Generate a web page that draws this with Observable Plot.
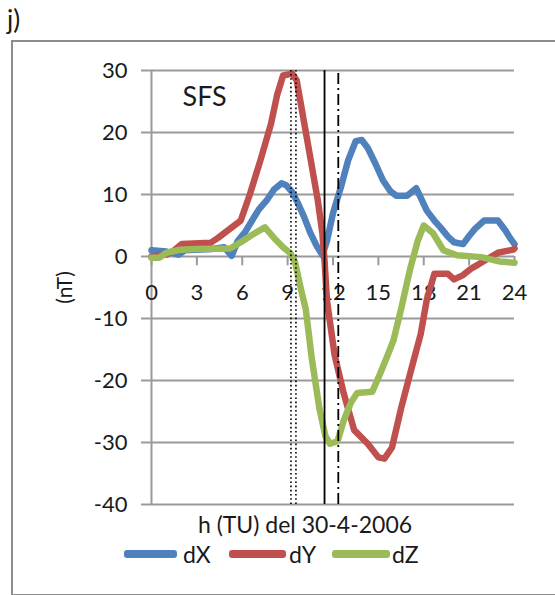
<!DOCTYPE html>
<html>
<head>
<meta charset="utf-8">
<script src="https://cdn.jsdelivr.net/npm/d3@7"></script>
<script src="https://cdn.jsdelivr.net/npm/@observablehq/plot@0.6"></script>
<style>
  html, body { margin: 0; padding: 0; background: #fff; }
  body { width: 555px; height: 595px; position: relative; overflow: hidden; font-family: Lato, "Open Sans", sans-serif; color: #1a1a1a; }
  #frame { position: absolute; left: 11px; top: 40px; width: 600px; height: 552px; border-left: 2px solid #8c8c8c; border-top: 2px solid #8c8c8c; border-bottom: 2px solid #8c8c8c; }
  #panel { position: absolute; left: 7px; top: 6px; font-size: 26px; line-height: 1; }
  #chart { position: absolute; left: 0; top: 0; }
  .leg { position: absolute; top: 542px; font-size: 23px; line-height: 24px; }
  .sw { position: absolute; height: 8px; border-radius: 3px; top: 550px; }
</style>
</head>
<body>
<div id="frame"></div>
<div id="panel">j)</div>
<div id="chart"></div>
<div id="legend"></div>
<script>
// ---- data (hours UT, nT) ----
const hoursX = [0, 1, 1.8, 2.2, 4, 4.8, 5.3, 5.7, 6.2, 6.7, 7.1, 7.6, 8.1, 8.6, 8.9, 9.3, 9.7, 10.1, 10.5, 10.9, 11.3, 11.6, 12.0, 12.5, 13.0, 13.5, 13.9, 14.3, 14.8, 15.3, 15.8, 16.2, 16.9, 17.5, 17.8, 18.2, 18.7, 19.1, 19.6, 20.0, 20.6, 21.0, 21.4, 22.0, 22.9, 23.4, 23.7, 24];
const dX =     [1.0, 0.8, 0.3, 1.0, 1.2, 1.5, 0.1, 2.5, 4.0, 6.0, 7.6, 9.0, 10.8, 11.8, 11.5, 10.4, 8.5, 6.3, 3.8, 1.8, 0.2, 2.5, 7.0, 11.0, 15.5, 18.6, 18.8, 17.5, 15.0, 12.3, 10.5, 9.8, 9.8, 11.0, 9.5, 7.4, 5.8, 4.7, 3.2, 2.3, 2.0, 3.3, 4.5, 5.8, 5.8, 4.2, 3.0, 2.0];

const hoursY = [0, 1.0, 1.5, 2.0, 3.9, 4.4, 5.2, 5.9, 6.5, 7.2, 7.9, 8.3, 8.7, 9.3, 9.6, 10.3, 11.0, 11.3, 11.45, 11.6, 12.1, 12.7, 13.4, 14.3, 15.0, 15.4, 15.9, 16.5, 17.1, 17.8, 18.2, 18.7, 19.6, 20.0, 20.6, 21.1, 21.6, 22.2, 22.9, 23.9, 24];
const dY =     [0, 0.3, 1.0, 2.0, 2.2, 3.0, 4.5, 5.8, 10.0, 15.5, 21.4, 26.0, 29.2, 29.5, 28.4, 18.7, 9.0, 3.7, -1.0, -7.1, -15.8, -22.0, -28.0, -30.2, -32.4, -32.6, -30.8, -24.5, -18.9, -12.5, -7.0, -2.8, -2.8, -3.7, -3.0, -2.0, -1.3, -0.4, 0.6, 1.1, 1.3];

const hoursZ = [0, 0.5, 1.0, 1.9, 3.0, 5.2, 5.9, 6.8, 7.5, 8.1, 8.7, 9.2, 9.5, 9.9, 10.2, 10.6, 11.1, 11.5, 11.8, 12.3, 12.7, 13.2, 13.6, 14.6, 15.1, 15.6, 16.0, 16.5, 17.1, 17.6, 18.0, 18.6, 19.3, 20.2, 21.8, 23.0, 24];
const dZ =     [-0.2, -0.2, 0.6, 1.1, 1.2, 1.3, 2.3, 3.7, 4.7, 3.0, 1.5, 0.5, -1.0, -5.5, -8.5, -16.5, -24.5, -29.0, -30.2, -29.8, -26.5, -23.5, -22.0, -21.8, -19.0, -16.0, -13.5, -8.5, -2.0, 2.5, 5.0, 3.8, 1.0, 0.2, -0.1, -0.8, -1.0];

const seriesNames = ["dX", "dY", "dZ"];
const seriesColors = ["#4F81BD", "#C0504D", "#9BBB59"];

const xTicks = [0, 3, 6, 9, 12, 15, 18, 21, 24];
const yTicks = [-40, -30, -20, -10, 0, 10, 20, 30];

const eventHours = [9.22, 9.55, 11.44, 12.35];
const eventStyles = ["dotted", "dotted", "solid", "dashdot"];

const stationLabel = "SFS";
const yLabel = "(nT)";
const xLabel = "h (TU) del 30-4-2006";

// ---- build tables ----
const rows = [];
hoursX.forEach((h, i) => rows.push({h, v: dX[i], s: "dX"}));
hoursY.forEach((h, i) => rows.push({h, v: dY[i], s: "dY"}));
hoursZ.forEach((h, i) => rows.push({h, v: dZ[i], s: "dZ"}));
const events = eventHours.map((h, i) => ({h, style: eventStyles[i]}));
const dashFor = {dotted: "1.6,2.6", solid: null, dashdot: "11,4,2,4"};
const widthFor = {dotted: 1.6, solid: 1.8, dashdot: 1.8};

const gridColor = "#9a9a9a";
const textColor = "#1a1a1a";

const lineMarks = seriesNames.map((name, i) =>
  Plot.line(rows.filter(d => d.s === name), {
    x: "h", y: "v", stroke: seriesColors[i], strokeWidth: 6.5,
    strokeLinejoin: "round", strokeLinecap: "round"
  })
);

const eventMarks = ["dotted", "solid", "dashdot"].map(st =>
  Plot.ruleX(events.filter(e => e.style === st), {
    x: "h", y1: yTicks[0], y2: yTicks[yTicks.length - 1],
    stroke: "#000", strokeWidth: widthFor[st], strokeDasharray: dashFor[st]
  })
);

const chart = Plot.plot({
  width: 555,
  height: 595,
  marginLeft: 151,
  marginRight: 41,
  marginTop: 70,
  marginBottom: 91,
  x: {domain: [0, 24], axis: null},
  y: {domain: [-40, 30], axis: null},
  style: {fontFamily: "Lato, 'Open Sans', sans-serif", fontSize: "22px", color: textColor, background: "transparent"},
  marks: [
    Plot.gridY(yTicks, {stroke: gridColor, strokeOpacity: 1, strokeWidth: 2}),
    Plot.axisY(yTicks, {tickSize: 10, tickPadding: 14, label: null, stroke: gridColor, strokeWidth: 2, fill: textColor, fontSize: 22, tickFormat: d => String(d)}),
    Plot.ruleX([0], {stroke: gridColor, strokeWidth: 2}),
    Plot.ruleX(xTicks, {x: d => d, y1: 0, y2: -1.5, stroke: gridColor, strokeWidth: 2}),
    Plot.text(xTicks, {x: d => d, y: 0, dy: 36, text: d => String(d), fill: textColor, fontSize: 22}),
    ...lineMarks,
    ...eventMarks,
    Plot.text([stationLabel], {frameAnchor: "top-left", dx: 31, dy: 27, text: d => d, textAnchor: "start", lineAnchor: "middle", fontSize: 27, fill: textColor}),
    Plot.text([yLabel], {frameAnchor: "left", dx: -86, text: d => d, rotate: -90, textAnchor: "middle", lineAnchor: "middle", fontSize: 21, fill: textColor}),
    Plot.text([xLabel], {frameAnchor: "bottom", dx: -28, dy: 21, text: d => d, textAnchor: "middle", lineAnchor: "middle", fontSize: 23, fill: textColor})
  ]
});
document.getElementById("chart").appendChild(chart);

// ---- legend ----
const legPos = [[124, 53, 183], [229, 57, 289], [332, 58, 392]];
const legend = document.getElementById("legend");
seriesNames.forEach((name, i) => {
  const sw = document.createElement("div");
  sw.className = "sw";
  sw.style.left = legPos[i][0] + "px";
  sw.style.width = legPos[i][1] + "px";
  sw.style.background = seriesColors[i];
  legend.appendChild(sw);
  const t = document.createElement("div");
  t.className = "leg";
  t.style.left = legPos[i][2] + "px";
  t.textContent = name;
  legend.appendChild(t);
});
</script>
</body>
</html>
